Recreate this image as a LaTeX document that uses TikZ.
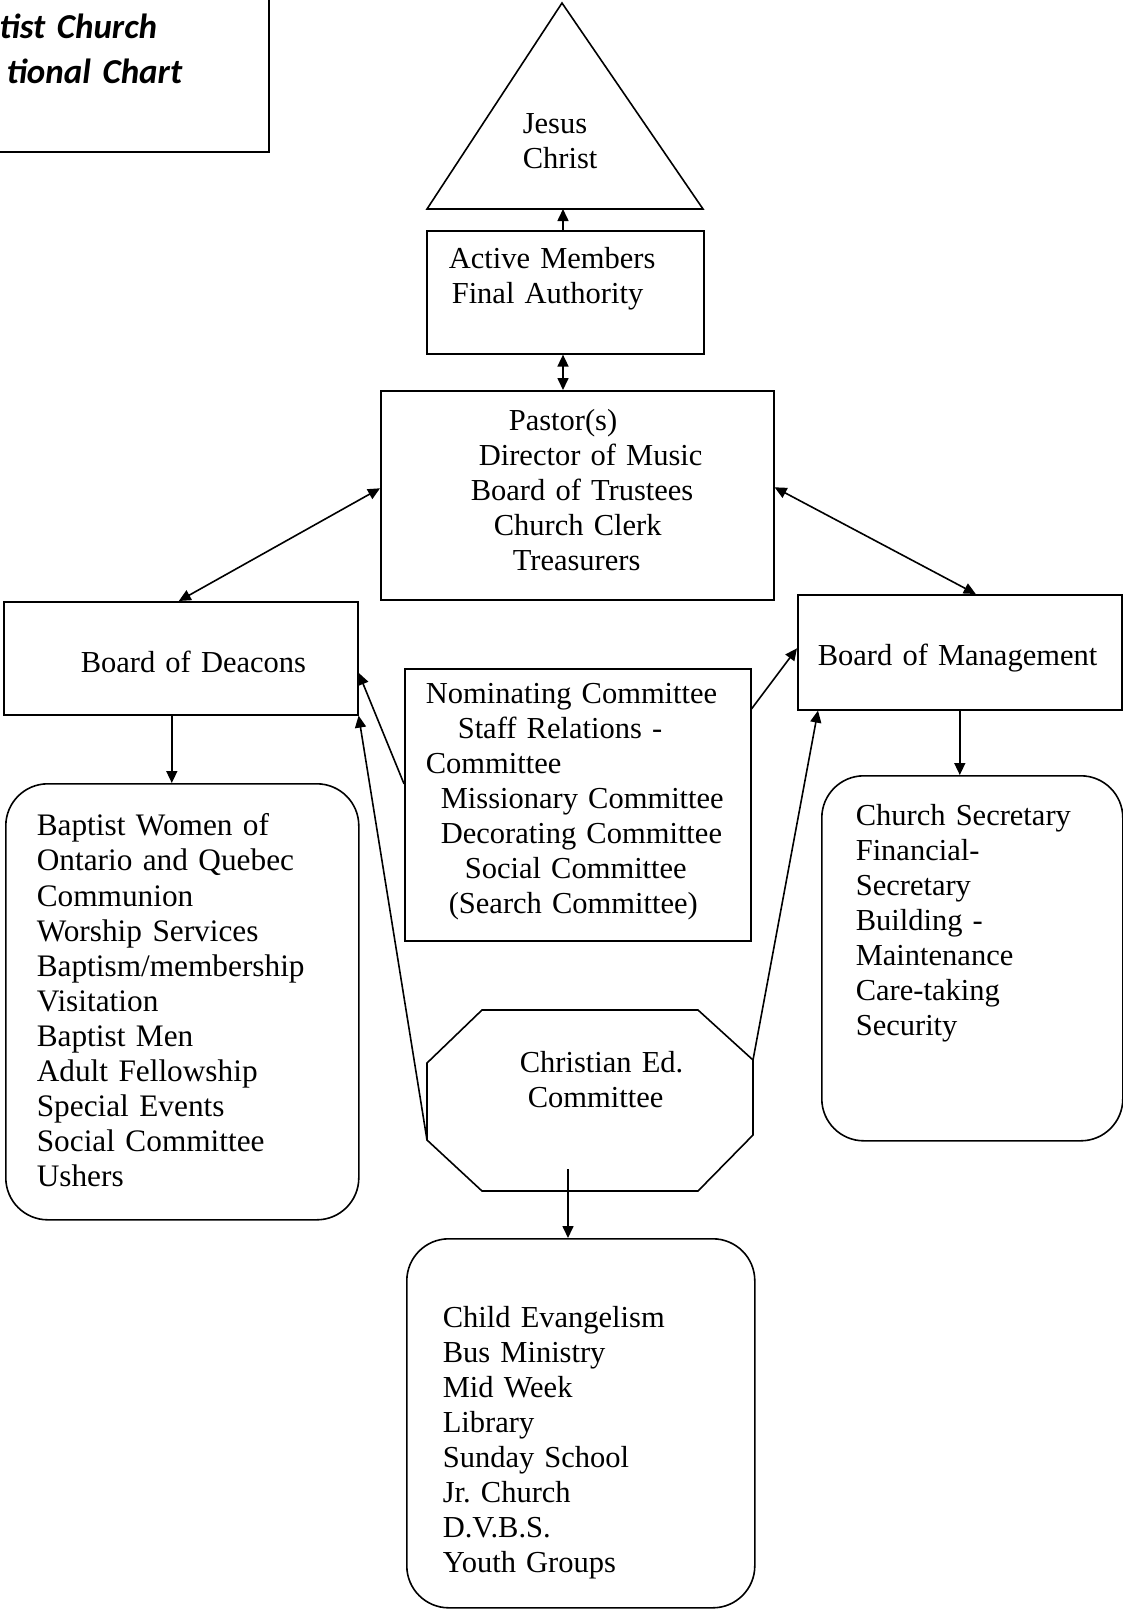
\documentclass[tikz,border=0pt]{standalone}
\usepackage{fontspec}
\setmainfont{Liberation Serif}
\newfontfamily\titlefont{Carlito}
\usetikzlibrary{arrows.meta}

\begin{document}
\begin{tikzpicture}[x=1pt, y=-1pt, line width=1.6pt,
    box/.style={draw, anchor=north west, inner xsep=20pt, inner ysep=0pt, align=left, font=\fontsize{30.5}{35}\selectfont},
    list/.style={box, rounded corners=42pt},
    txt/.style={anchor=base west, inner sep=0pt, text width=240pt, align=left, font=\fontsize{30.5}{35}\selectfont},
    arr/.style={-{Triangle[length=12pt,width=11pt]}},
    darr/.style={{Triangle[length=12pt,width=11pt]}-{Triangle[length=12pt,width=11pt]}}]
    \useasboundingbox (0,0) rectangle (1123,1610);

    % title box in the corner, cut by the page edge
    \node[draw, anchor=south east, inner xsep=87pt, inner ysep=0pt, text width=326pt, text height=66pt, text depth=114pt, align=right, font=\titlefont\bfseries\itshape\fontsize{35}{45}\selectfont] (title) at (270,153) {tist Church\hspace*{25pt}\mbox{}\\tional Chart};

    % triangle on top
    \coordinate (tl) at (427,209);
    \coordinate (apex) at (562,3);
    \coordinate (tr) at (703,209);
    \coordinate (base) at (563,209);
    \draw (tl) -- (apex) -- (tr) -- cycle;
    \node[txt] (jesus) at (522,133) {Jesus\\Christ};

    % square boxes
    \node[box, text width=237pt, text height=38pt, text depth=85pt] (active) at (426,230) {\hspace*{2pt}Active Members\\\hspace*{5pt}Final Authority};
    \node[box, text width=353pt, text height=40pt, text depth=169pt] (pastor) at (380,390) {\hspace*{108pt}Pastor(s)\\\hspace*{78pt}Director of Music\\\hspace*{70pt}Board of Trustees\\\hspace*{93pt}Church Clerk\\\hspace*{112pt}Treasurers};
    \node[box, text width=314pt, text height=71pt, text depth=42pt] (deacons) at (3,601) {\hspace*{57pt}Board of Deacons};
    \node[box, text width=284pt, text height=71pt, text depth=44pt] (mgmt) at (797,594) {Board of Management};
    \node[box, text width=306pt, text height=35pt, text depth=237pt] (nomin) at (404,668) {\hspace*{1pt}Nominating Committee\\\hspace*{33pt}Staff Relations -\\\hspace*{1pt}Committee\\\hspace*{16pt}Missionary Committee\\\hspace*{16pt}Decorating Committee\\\hspace*{40pt}Social Committee\\\hspace*{24pt}(Search Committee)};

    % rounded lists
    \node[list, inner xsep=31pt, text width=291pt, text height=52pt, text depth=384pt, font=\fontsize{31.3}{35.1}\selectfont] (deaconlist) at (5,783) {Baptist Women of\\Ontario and Quebec\\Communion\\Worship Services\\Baptism/membership\\Visitation\\Baptist Men\\Adult Fellowship\\Special Events\\Social Committee\\Ushers};
    \node[list, inner xsep=34pt, text width=233pt, text height=50pt, text depth=315pt] (mgmtlist) at (821,775) {Church Secretary\\Financial-\\Secretary\\Building -\\Maintenance\\Care-taking\\Security};
    \node[list, inner xsep=36pt, text width=276pt, text height=89pt, text depth=280pt] (edlist) at (406,1238) {Child Evangelism\\Bus Ministry\\Mid Week\\Library\\Sunday School\\Jr.\ Church\\D.V.B.S.\\Youth Groups};

    % octagon for christian ed
    \coordinate (o1) at (482,1010);
    \coordinate (o2) at (698,1010);
    \coordinate (o3) at (753,1060);
    \coordinate (o4) at (753,1135);
    \coordinate (o5) at (698,1191);
    \coordinate (o6) at (482,1191);
    \coordinate (o7) at (427,1140);
    \coordinate (o8) at (427,1063);
    \draw (o1) -- (o2) -- (o3) -- (o4) -- (o5) -- (o6) -- (o7) -- (o8) -- cycle;
    \node[txt] (ced) at (519,1072) {Christian Ed.\\\hspace*{8pt}Committee};
    \coordinate (edtop) at (568,1169);

    % arrows
    \draw[arr] (active.north -| base) -- (base);
    \draw[darr] (active.south -| base) -- (pastor.north -| base);
    \draw[darr] ([yshift=7pt]pastor.west) -- ([xshift=-2pt]deacons.north);
    \draw[darr] ([yshift=8pt]pastor.east) -- ([xshift=16pt]mgmt.north);
    \draw[arr] ([yshift=21pt]nomin.west) -- ([yshift=-14.5pt]deacons.east);
    \draw[arr] ([yshift=96pt]nomin.east) -- ([yshift=4pt]mgmt.west);
    \draw[arr] (o7) -- (deacons.south east);
    \draw[arr] (o3) -- ([xshift=21pt]mgmt.south west);
    \coordinate (dl) at ([xshift=-9pt]deacons.south);
    \draw[arr] (dl) -- (dl |- deaconlist.north);
    \draw[arr] (mgmt.south) -- (mgmt.south |- mgmtlist.north);
    \draw[arr] (edtop) -- (edtop |- edlist.north);
\end{tikzpicture}
\end{document}
